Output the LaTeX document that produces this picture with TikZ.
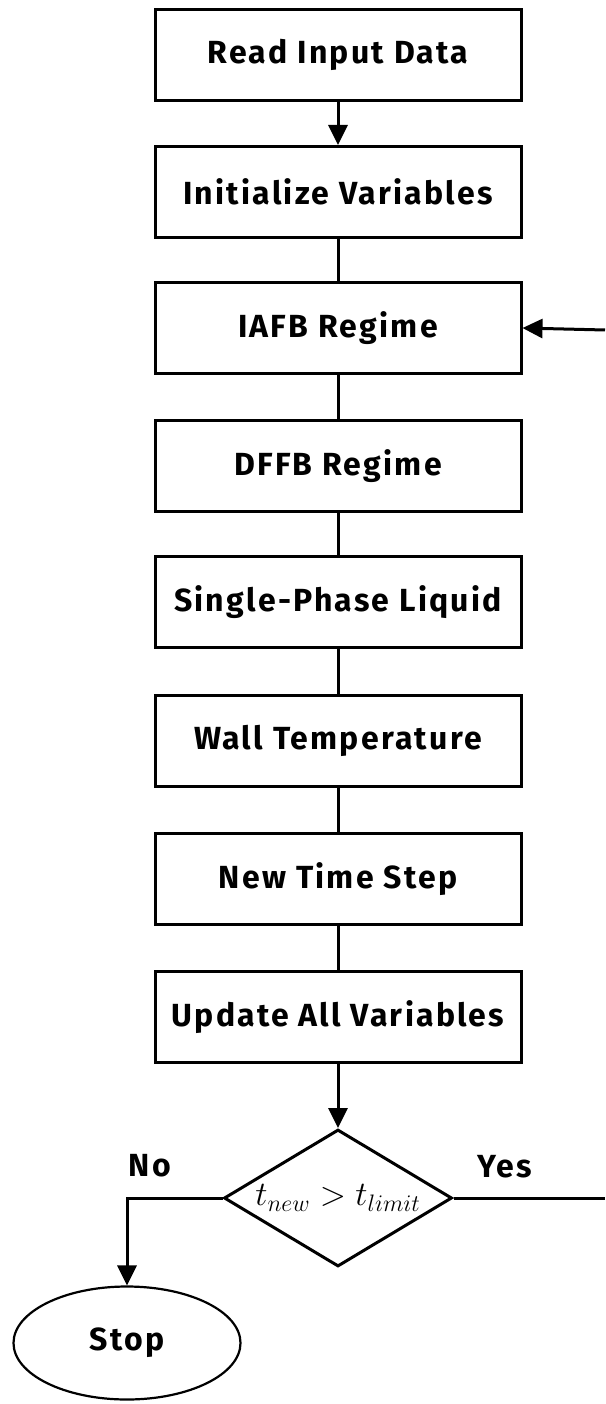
\documentclass[tikz,border=0pt]{standalone}
\usepackage{fontspec}
\setmainfont{Fira Sans}[LetterSpace=7]
\usepackage{tikz}
\usetikzlibrary{arrows.meta,positioning}
\usetikzlibrary{shapes.geometric}

\begin{document}
\begin{tikzpicture}
	[x=1pt,y=-1pt,line width=3pt,
	box node/.style={shape=rectangle,draw,minimum width=366pt,minimum height=91pt,font=\fontsize{32}{35}\selectfont\bfseries},
	test node/.style={shape=diamond,draw,aspect=1.66,inner sep=0pt,minimum width=228pt,minimum height=137pt,font=\fontsize{26}{30}\selectfont},
	stop node/.style={shape=ellipse,draw,line width=2.2pt,minimum width=227pt,minimum height=113pt,font=\fontsize{32}{35}\selectfont\bfseries},
	tag/.style={font=\fontsize{32}{35}\selectfont\bfseries},
	tip/.style={-{Triangle[length=20pt,width=19pt]}}]
	\useasboundingbox (0,0) rectangle (605,1404);
	
	\node [box node] (read) at (338,55) {Read Input Data};
	\node [box node] (init) at (338,192) {Initialize Variables};
	\node [box node] (iafb) at (338,328) {IAFB Regime};
	\node [box node] (dffb) at (338,466) {DFFB Regime};
	\node [box node] (liquid) at (338,602) {Single-Phase Liquid};
	\node [box node] (wall) at (338,741) {Wall Temperature};
	\node [box node] (step) at (338,879) {New Time Step};
	\node [box node] (update) at (338,1017) {Update All Variables};
	
	\node [test node] (test) at (338,1198) {\scalebox{1.38}{$t_{new} > t_{limit}$}};
	\node [stop node] (stop) at (127,1343) {Stop};
	
	\node [tag] (no) at (150,1166) {No};
	\node [tag] (yes) at (505,1167) {Yes};
	
	\coordinate (yesend) at (605,1198);
	\coordinate (loopin) at (605,330);
	
	\path[draw]
	(read) edge [tip] (init)
	(init) edge (iafb)
	(iafb) edge (dffb)
	(dffb) edge (liquid)
	(liquid) edge (wall)
	(wall) edge (step)
	(step) edge (update)
	(update) edge [tip] (test)
	(test.east) edge (yesend)
	(loopin) edge [tip] (iafb.east)
	;
	\draw [tip] (test.west) -| (stop.north);
	
\end{tikzpicture}
\end{document}
